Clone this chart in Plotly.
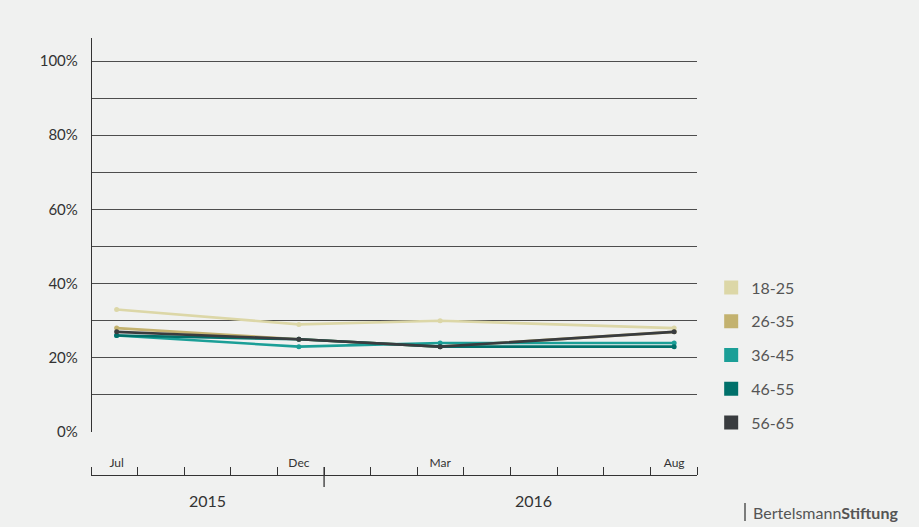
import plotly.graph_objects as go

# Survey waves: x is measured in months from 1 Aug 2015 (axis runs to 1 Sep 2016)
wave_labels = ["Jul", "Dec", "Mar", "Aug"]
wave_pos = [0.55, 4.46, 7.49, 12.51]

age_groups = ["18-25", "26-35", "36-45", "46-55", "56-65"]
share_18_25 = [33, 29, 30, 28]
share_26_35 = [28, 25, 23, 27]
share_36_45 = [26, 23, 24, 24]
share_46_55 = [26, 25, 23, 23]
share_56_65 = [27, 25, 23, 27]
series = [share_18_25, share_26_35, share_36_45, share_46_55, share_56_65]
colors = ["#dcd7a7", "#c3b26f", "#1b9f97", "#00706a", "#393c3f"]

month_ticks = list(range(14))
year_break = 5            # 1 Jan 2016
year_labels = ["2015", "2016"]
year_pos = [2.5, 9.5]

y_ticks = list(range(0, 101, 10))
y_text = [f"{v}%" if v % 20 == 0 else "" for v in y_ticks]

BG = "#f0f1f0"
FONT = "Lato"

fig = go.Figure()

for name, vals, col in zip(age_groups, series, colors):
    fig.add_trace(go.Scatter(
        x=wave_pos, y=vals, mode="lines+markers", name=name,
        line=dict(color=col, width=2.6),
        marker=dict(color=col, size=5),
        showlegend=False, hoverinfo="skip",
    ))

# square legend swatches
for name, col in zip(age_groups, colors):
    fig.add_trace(go.Scatter(
        x=[None], y=[None], mode="markers", name=name,
        marker=dict(color=col, size=14, symbol="square"),
        legendgroup=name, showlegend=True,
    ))

fig.update_layout(
    width=919, height=527,
    margin=dict(l=91, r=222, t=38, b=52),
    paper_bgcolor=BG, plot_bgcolor=BG,
    font=dict(family=FONT, color="#333333"),
    xaxis=dict(
        range=[0, 13], anchor="free", position=0,
        showgrid=False, zeroline=False,
        showline=True, linecolor="#333333", linewidth=1.3,
        tickvals=wave_pos, ticktext=wave_labels, ticks="",
        ticklabelposition="inside", ticklabelstandoff=5,
        tickfont=dict(size=12, color="#333333"),
        minor=dict(tickvals=month_ticks, ticks="inside", ticklen=8,
                   tickcolor="#333333", tickwidth=1),
        fixedrange=True,
    ),
    yaxis=dict(
        domain=[43 / 437, 1], range=[0, 106.2],
        anchor="free", position=0,
        tickvals=y_ticks, ticktext=y_text,
        showgrid=True, gridcolor="#4d4d4d", gridwidth=1,
        zeroline=False,
        showline=True, linecolor="#333333", linewidth=1.3,
        ticks="", ticklabelstandoff=10,
        tickfont=dict(size=15, color="#333333"),
        fixedrange=True,
    ),
    legend=dict(
        x=1.0234, y=0.468, xanchor="left", yanchor="top",
        font=dict(size=16, color="#555555", family=FONT),
        tracegroupgap=10, bgcolor="rgba(0,0,0,0)",
        itemclick=False, itemdoubleclick=False,
    ),
    showlegend=True,
)

# year boundary tick crossing the time axis
fig.add_shape(type="line", xref="x", yref="paper", x0=year_break, x1=year_break,
              ysizemode="pixel", yanchor=0, y0=-12, y1=8,
              line=dict(color="#333333", width=1.3))

for lab, pos in zip(year_labels, year_pos):
    fig.add_annotation(x=pos, y=0, xref="x", yref="paper", yanchor="top",
                       yshift=-14, text=lab, showarrow=False,
                       font=dict(size=16, color="#333333", family=FONT))

# publisher mark
fig.add_shape(type="line", xref="paper", yref="paper",
              x0=(745 - 91) / 606, x1=(745 - 91) / 606,
              y0=(475 - 503) / 437, y1=(475 - 521) / 437,
              line=dict(color="#555555", width=1.5))
fig.add_annotation(x=(751 - 91) / 606, y=(475 - 512) / 437, xref="paper", yref="paper",
                   xanchor="left", yanchor="middle", showarrow=False,
                   text="Bertelsmann<b>Stiftung</b>",
                   font=dict(size=16, color="#555555", family=FONT))

fig.write_html("out.html")
